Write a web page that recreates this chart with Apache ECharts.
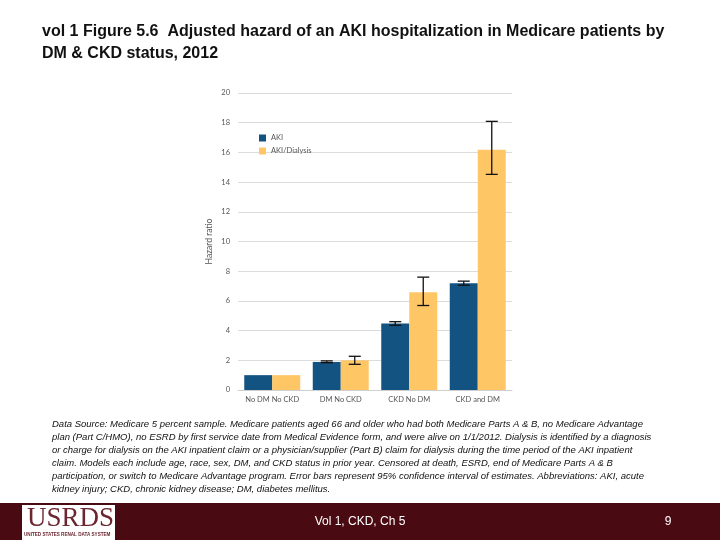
<!DOCTYPE html>
<html>
<head>
<meta charset="utf-8">
<script src="https://cdn.jsdelivr.net/npm/echarts@6/dist/echarts.min.js"></script>
<style>html,body{margin:0;padding:0;background:#fff}#c{width:720px;height:540px}</style>
</head>
<body>
<div id="c"></div>
<script>
var categories = ['No DM No CKD', 'DM No CKD', 'CKD No DM', 'CKD and DM'];
var akiValues = [1.0, 1.89, 4.47, 7.19];
var akiLow = [1.0, 1.84, 4.36, 7.06];
var akiHigh = [1.0, 1.96, 4.6, 7.33];
var dialValues = [1.0, 2.0, 6.58, 16.18];
var dialLow = [1.0, 1.73, 5.69, 14.52];
var dialHigh = [1.0, 2.27, 7.6, 18.09];
var yTicks = [0, 2, 4, 6, 8, 10, 12, 14, 16, 18, 20];

var footnoteLines = [
 'Data Source: Medicare 5 percent sample. Medicare patients aged 66 and older who had both Medicare Parts A & B, no Medicare Advantage',
 'plan (Part C/HMO), no ESRD by first service date from Medical Evidence form, and were alive on 1/1/2012. Dialysis is identified by a diagnosis',
 'or charge for dialysis on the AKI inpatient claim or a physician/supplier (Part B) claim for dialysis during the time period of the AKI inpatient',
 'claim. Models each include age, race, sex, DM, and CKD status in prior year. Censored at death, ESRD, end of Medicare Parts A & B',
 'participation, or switch to Medicare Advantage program. Error bars represent 95% confidence interval of estimates. Abbreviations: AKI, acute',
 'kidney injury; CKD, chronic kidney disease; DM, diabetes mellitus.'
];

var BAR_W = 28;
function errItem(side) {
  return function (params, api) {
    var i = api.value(0);
    var lo = api.coord([i, api.value(1)]);
    var hi = api.coord([i, api.value(2)]);
    var x = lo[0] + side * BAR_W / 2;
    var cap = 6;
    var st = {stroke: '#111', lineWidth: 1.3};
    return {type: 'group', children: [
      {type: 'line', shape: {x1: x, y1: lo[1], x2: x, y2: hi[1]}, style: st},
      {type: 'line', shape: {x1: x - cap, y1: lo[1], x2: x + cap, y2: lo[1]}, style: st},
      {type: 'line', shape: {x1: x - cap, y1: hi[1], x2: x + cap, y2: hi[1]}, style: st}
    ]};
  };
}
var akiErr = [], dialErr = [];
for (var i = 1; i < categories.length; i++) {
  akiErr.push([i, akiLow[i], akiHigh[i]]);
  dialErr.push([i, dialLow[i], dialHigh[i]]);
}

var footGraphics = footnoteLines.map(function (t, k) {
  return {type: 'text', left: 52, top: 419 + k * 13,
    style: {text: t, font: 'italic 9.5px "Liberation Sans", sans-serif', fill: '#111'}};
});

var chart = echarts.init(document.getElementById('c'), null, {renderer: 'canvas'});
chart.setOption({
  animation: false,
  backgroundColor: '#fff',
  grid: {left: 238, right: 208, top: 93, bottom: 150},
  legend: {
    orient: 'vertical', left: 254, top: 129, itemWidth: 7, itemHeight: 7, itemGap: 5,
    icon: 'rect',
    textStyle: {fontSize: 7.5, color: '#555', fontFamily: 'Lato, sans-serif'},
    data: ['AKI', 'AKI/Dialysis']
  },
  xAxis: {
    type: 'category', data: categories,
    axisTick: {show: false},
    axisLine: {show: true, lineStyle: {color: '#cfcfcf'}},
    axisLabel: {fontSize: 7.5, color: '#555', margin: 6, interval: 0, fontFamily: 'Lato, sans-serif'}
  },
  yAxis: {
    type: 'value', min: 0, max: 20, interval: 2,
    name: 'Hazard ratio', nameLocation: 'middle', nameGap: 24, nameRotate: 90,
    nameTextStyle: {fontSize: 8.5, color: '#555', fontFamily: 'Lato, sans-serif'},
    axisLabel: {fontSize: 7.5, color: '#555', margin: 8, fontFamily: 'Lato, sans-serif',
      formatter: function (v) { return yTicks.indexOf(v) >= 0 ? String(v) : ''; }},
    splitLine: {lineStyle: {color: '#dcdcdc'}},
    axisLine: {show: false}, axisTick: {show: false}
  },
  series: [
    {name: 'AKI', type: 'bar', data: akiValues, barWidth: BAR_W, barGap: '0%',
      itemStyle: {color: '#135381'}},
    {name: 'AKI/Dialysis', type: 'bar', data: dialValues, barWidth: BAR_W,
      itemStyle: {color: '#ffc666'}},
    {type: 'custom', data: akiErr, renderItem: errItem(-1), z: 10,
      encode: {x: 0, y: [1, 2]}, silent: true},
    {type: 'custom', data: dialErr, renderItem: errItem(1), z: 10,
      encode: {x: 0, y: [1, 2]}, silent: true}
  ],
  graphic: [
    {type: 'text', left: 42, top: 24, style: {text: 'vol 1 Figure 5.6  Adjusted hazard of an AKI hospitalization in Medicare patients by', font: 'bold 16px "Liberation Sans", sans-serif', fill: '#111'}},
    {type: 'text', left: 42, top: 46, style: {text: 'DM & CKD status, 2012', font: 'bold 16px "Liberation Sans", sans-serif', fill: '#111'}},
    {type: 'rect', shape: {x: 0, y: 503, width: 720, height: 37}, style: {fill: '#4a0a12'}},
    {type: 'rect', shape: {x: 22, y: 505, width: 93, height: 35}, style: {fill: '#fff'}},
    {type: 'text', left: 27, top: 505, style: {text: 'USRDS', font: '27px "Liberation Serif", serif', fill: '#6b2630'}},
    {type: 'text', left: 24, top: 532, style: {text: 'UNITED STATES RENAL DATA SYSTEM', font: 'bold 4.6px "Liberation Sans", sans-serif', fill: '#6b2630'}},
    {type: 'text', x: 360, y: 522, style: {text: 'Vol 1, CKD, Ch 5', font: '12px "Liberation Sans", sans-serif', fill: '#fff', align: 'center', verticalAlign: 'middle'}},
    {type: 'text', x: 668, y: 522, style: {text: '9', font: '12px "Liberation Sans", sans-serif', fill: '#fff', align: 'center', verticalAlign: 'middle'}}
  ].concat(footGraphics)
});
</script>
</body>
</html>
